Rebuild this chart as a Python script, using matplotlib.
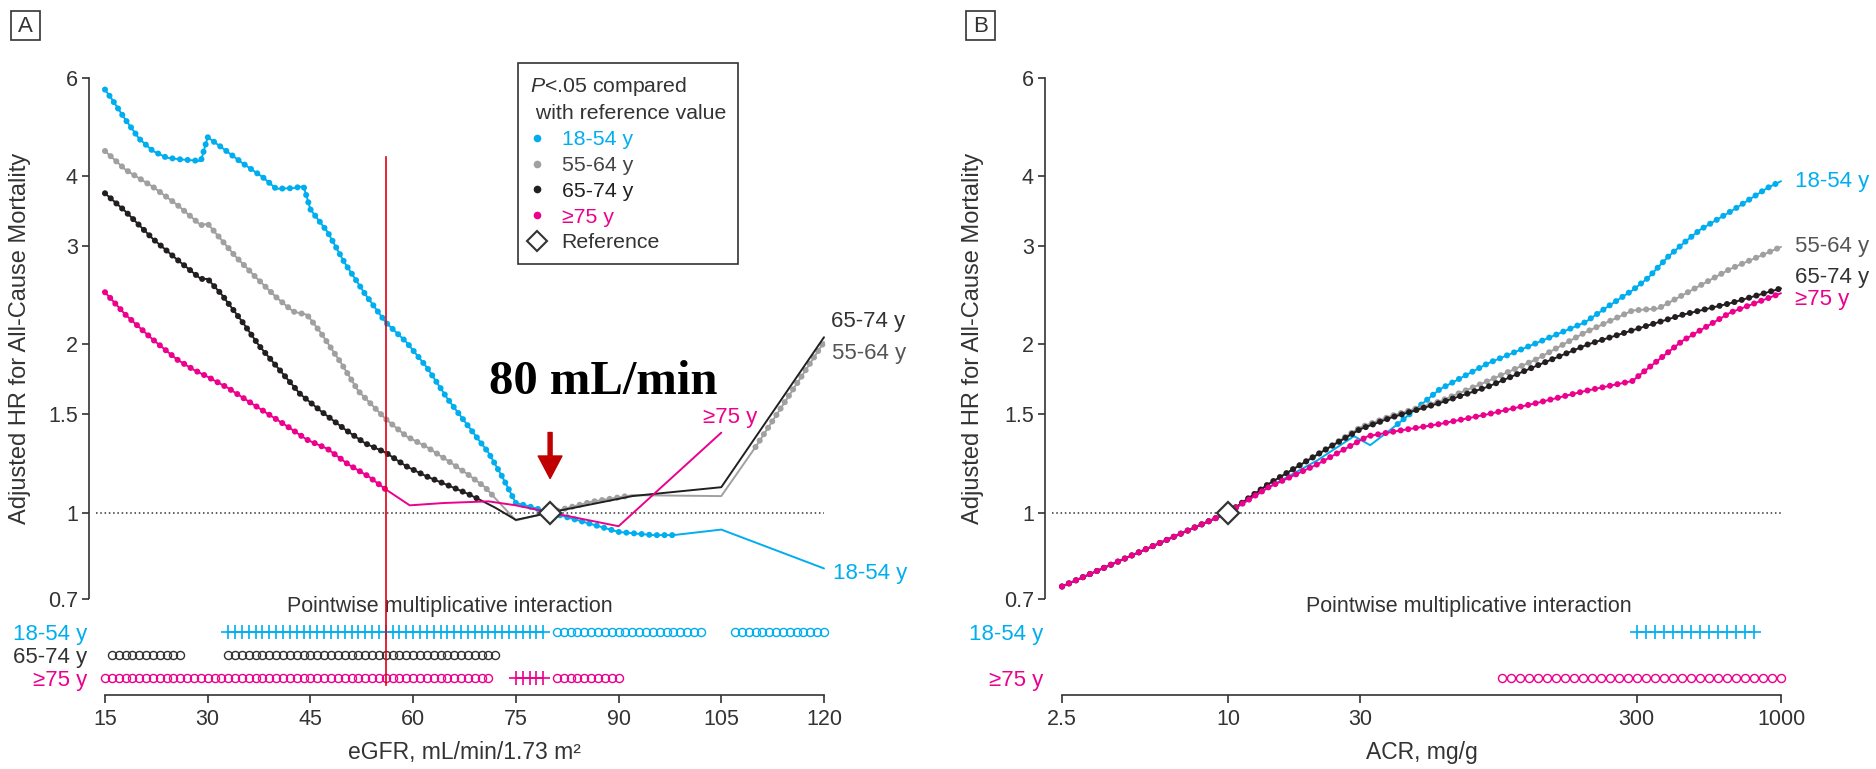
import numpy as np
import matplotlib
matplotlib.use('Agg')
import matplotlib.pyplot as plt
from matplotlib.lines import Line2D
from matplotlib.patches import Rectangle
from matplotlib.transforms import offset_copy

plt.rcParams['font.family'] = ['Liberation Sans', 'DejaVu Sans']
plt.rcParams['mathtext.fontset'] = 'custom'
plt.rcParams['mathtext.rm'] = 'Liberation Sans'
plt.rcParams['mathtext.it'] = 'Liberation Sans:italic'

blue = '#00AEEF'
grey = '#A0A0A0'
black = '#231F20'
pink = '#EC008C'
dark = '#333333'

# ---- panel A: eGFR ----
egfr_1854 = [15, 16, 18, 20, 22, 24, 26, 29, 30, 32, 35, 38, 40, 42.5, 44, 45, 47.5, 50, 53, 56,
             59, 62, 65, 68, 71, 73, 75, 77, 80, 84, 90, 95, 98, 105, 120]
hr_1854 = [5.72, 5.50, 5.05, 4.67, 4.44, 4.32, 4.29, 4.26, 4.70, 4.51, 4.23, 3.99, 3.80, 3.81, 3.84,
           3.49, 3.18, 2.80, 2.46, 2.19, 2.02, 1.82, 1.60, 1.43, 1.28, 1.16, 1.04, 1.025, 1.0,
           0.969, 0.923, 0.911, 0.911, 0.932, 0.794]
egfr_5564 = [15, 18, 22, 25.5, 29, 30, 31.5, 34, 37, 40, 42.5, 44.5, 46.5, 49.5, 52, 56, 59, 62, 65,
             68, 70.5, 72, 75, 80, 86, 92, 105, 110, 120]
hr_5564 = [4.44, 4.11, 3.83, 3.56, 3.27, 3.29, 3.13, 2.88, 2.64, 2.43, 2.29, 2.26, 2.10, 1.85, 1.65,
           1.47, 1.37, 1.31, 1.24, 1.17, 1.11, 1.06, 0.968, 1.0, 1.045, 1.074, 1.07, 1.31, 2.02]
egfr_6574 = [15, 18, 22, 25.5, 29, 30, 32, 35, 37.5, 40.5, 43.5, 46.5, 50, 53, 56, 59, 62, 65, 68,
             70, 72, 75, 80, 92, 105, 120]
hr_6574 = [3.73, 3.46, 3.09, 2.84, 2.62, 2.62, 2.46, 2.20, 1.99, 1.80, 1.63, 1.52, 1.41, 1.33, 1.28,
           1.21, 1.16, 1.12, 1.08, 1.05, 1.02, 0.97, 1.0, 1.07, 1.11, 2.06]
egfr_75 = [15, 18, 22, 25.5, 28, 30, 33, 36, 38.5, 41.5, 44.5, 47.5, 50.5, 53.5, 56, 59.5, 64.5, 71,
           75, 80, 90, 105]
hr_75 = [2.48, 2.26, 2.04, 1.88, 1.80, 1.75, 1.67, 1.58, 1.51, 1.43, 1.35, 1.30, 1.22, 1.16, 1.10,
         1.03, 1.04, 1.047, 1.03, 1.0, 0.945, 1.39]
# eGFR ranges with P<.05 vs reference
sig_a_1854 = [(15, 98)]
sig_a_5564 = [(15, 72), (80, 92), (110, 120)]
sig_a_6574 = [(15, 70)]
sig_a_75 = [(15, 56)]
ref_egfr = 80
cutoff_egfr = 56
egfr_ticks = [15, 30, 45, 60, 75, 90, 105, 120]
# pointwise interaction rows (marker, first, last eGFR)
int_a_1854 = [('+', 33, 79), ('o', 81, 102), ('o', 107, 120)]
int_a_6574 = [('o', 16, 26), ('o', 33, 72)]
int_a_75 = [('o', 15, 71), ('+', 75, 79), ('o', 81, 90)]

# ---- panel B: ACR ----
acr_1854 = [2.5, 10, 14, 21, 28.5, 32.6, 36, 41, 58, 87, 130, 195, 240, 290, 330, 390, 445, 510,
            670, 890, 1000]
hrb_1854 = [0.737, 1.0, 1.11, 1.24, 1.37, 1.32, 1.37, 1.44, 1.66, 1.85, 2.01, 2.19, 2.35, 2.50,
            2.63, 2.87, 3.04, 3.21, 3.48, 3.81, 3.92]
acr_5564 = [2.5, 10, 14, 21, 30, 39, 58, 87, 130, 195, 290, 360, 440, 655, 1000]
hrb_5564 = [0.737, 1.0, 1.125, 1.27, 1.42, 1.49, 1.58, 1.72, 1.88, 2.10, 2.30, 2.32, 2.45, 2.73, 2.99]
acr_6574 = [2.5, 10, 14, 21, 30, 39, 58, 87, 130, 200, 290, 440, 655, 1000]
hrb_6574 = [0.737, 1.0, 1.125, 1.27, 1.41, 1.48, 1.57, 1.68, 1.83, 2.0, 2.12, 2.26, 2.37, 2.52]
acr_75 = [2.5, 10, 14, 21, 32, 41, 58, 87, 130, 195, 290, 320, 440, 655, 1000]
hrb_75 = [0.737, 1.0, 1.11, 1.22, 1.37, 1.40, 1.44, 1.50, 1.57, 1.65, 1.72, 1.79, 2.03, 2.28, 2.47]
sig_b_1854 = [(41, 1000)]
sig_b_all = [(2.5, 1000)]
ref_acr = 10
acr_ticks = [2.5, 10, 30, 300, 1000]
acr_ticklabels = ['2.5', '10', '30', '300', '1000']
int_b_1854 = [('+', 290, 860)]
int_b_75 = [('o', 92, 1000)]

hr_ticks = [0.7, 1, 1.5, 2, 3, 4, 6]
hr_ticklabels = ['0.7', '1', '1.5', '2', '3', '4', '6']

# evaluation grids used for the interaction marks
egfr_grid = np.arange(15, 121)
acr_grid = np.geomspace(2.5, 1000, 81)

W, H = 1876, 769
fig = plt.figure(figsize=(W / 100, H / 100), dpi=100)


def px_axes(x0, y0, x1, y1):
    return fig.add_axes([x0 / W, 1 - y1 / H, (x1 - x0) / W, (y1 - y0) / H])


def draw_curve(ax, x, y, sig, color, z):
    x = np.array(x)
    y = np.array(y)
    ax.plot(x, y, color=color, lw=1.4, zorder=z, clip_on=False, solid_capstyle='round')
    for lo, hi in sig:
        m = (x >= lo) & (x <= hi)
        ax.plot(x[m], y[m], color=color, lw=4.4, ls=(0, (0.001, 1.25)),
                dash_capstyle='round', zorder=z, clip_on=False)


def style_main(ax):
    ax.set_yscale('log')
    ax.set_ylim(0.7, 6)
    ax.set_yticks(hr_ticks)
    ax.set_yticklabels(hr_ticklabels)
    ax.yaxis.set_minor_locator(matplotlib.ticker.NullLocator())
    for s in ['top', 'right', 'bottom']:
        ax.spines[s].set_visible(False)
    ax.spines['left'].set_bounds(0.7, 6)
    ax.spines['left'].set_color(dark)
    ax.spines['left'].set_linewidth(1.2)
    ax.tick_params(axis='y', length=5, width=1.2, color=dark, labelcolor=dark, labelsize=15.5, pad=3)
    ax.set_xticks([])
    ax.axhline(1, xmin=0.01, xmax=1, color=dark, lw=1.1, ls=(0, (1, 1.8)), zorder=1)


def style_low(ax):
    ax.set_ylim(2.74, -1.435)
    for s in ['top', 'right', 'left']:
        ax.spines[s].set_visible(False)
    ax.spines['bottom'].set_color(dark)
    ax.spines['bottom'].set_linewidth(1.2)
    ax.tick_params(axis='x', length=6, width=1.2, color=dark, labelcolor=dark, labelsize=15.5, pad=4)
    ax.tick_params(axis='y', length=0, pad=1.5, labelsize=16)


def draw_rows(ax, grid, rows, colors):
    for r, (segs, c) in enumerate(zip(rows, colors)):
        for mk, lo, hi in segs:
            g = grid[(grid >= lo * 0.999) & (grid <= hi * 1.001)]
            if mk == '+':
                ax.plot(g, np.full(len(g), r), ls='none', marker='+',
                        ms=10, mew=1.2, color=c, clip_on=False)
            else:
                ax.plot(g, np.full(len(g), r), ls='none', marker='o', ms=5.8, mew=1.0,
                        mfc='none', mec=c, clip_on=False)


# ---------------- panel A ----------------
axA = px_axes(89, 78, 824, 599)
axA_low = px_axes(89, 599, 824, 695)
xlimA = (15 - 16 / 6.848, 120)
axA.set_xlim(xlimA)
axA_low.set_xlim(xlimA)
style_main(axA)
style_low(axA_low)

draw_curve(axA, egfr_1854, hr_1854, sig_a_1854, blue, 2)
draw_curve(axA, egfr_5564, hr_5564, sig_a_5564, grey, 3)
draw_curve(axA, egfr_6574, hr_6574, sig_a_6574, black, 4)
draw_curve(axA, egfr_75, hr_75, sig_a_75, pink, 5)
axA.plot([ref_egfr], [1], marker='D', ms=11, mfc='white', mec=dark, mew=1.6, zorder=10, ls='none')

axA.annotate('18-54 y', xy=(egfr_1854[-1], hr_1854[-1]), xytext=(9, -5), textcoords='offset pixels',
             color=blue, fontsize=16, va='center', annotation_clip=False)
axA.annotate('55-64 y', xy=(egfr_5564[-1], hr_5564[-1]), xytext=(8, -11), textcoords='offset pixels',
             color='#555555', fontsize=16, va='center', annotation_clip=False)
axA.annotate('65-74 y', xy=(egfr_6574[-1], hr_6574[-1]), xytext=(7, 16), textcoords='offset pixels',
             color=dark, fontsize=16, va='center', annotation_clip=False)
axA.annotate('≥75 y', xy=(egfr_75[-1], hr_75[-1]), xytext=(9, 15), textcoords='offset pixels',
             color=pink, fontsize=16, va='center', ha='center', annotation_clip=False)

# highlighted reference value
axA.annotate('80 mL/min', xy=(ref_egfr, 1), xytext=(53, 119), textcoords='offset pixels',
             ha='center', va='baseline', fontsize=35, fontweight='bold',
             family=['Liberation Serif', 'DejaVu Serif'], color='black')
axA.annotate('', xy=(ref_egfr, 1), xycoords=offset_copy(axA.transData, fig=fig, x=0, y=34, units='dots'),
             xytext=(0, 46), textcoords='offset pixels',
             arrowprops=dict(arrowstyle='simple,head_length=0.9,head_width=0.95,tail_width=0.16',
                             color='#C00000', shrinkA=0, shrinkB=0, mutation_scale=18))
axA.axvline(cutoff_egfr, ymin=0, ymax=0.848, color='#E3000F', lw=1.2, zorder=6)
axA_low.axvline(cutoff_egfr, ymin=0.104, ymax=1, color='#E3000F', lw=1.2, zorder=6)

handles = [Line2D([], [], ls='none', marker='o', ms=4.5, color=c) for c in [blue, grey, black, pink]]
handles.append(Line2D([], [], ls='none', marker='D', ms=10, mfc='white', mec=dark, mew=1.5))
leg = axA.legend(handles, ['18-54 y', '55-64 y', '65-74 y', '≥75 y', 'Reference'],
                 title='$\\it{P}$<.05 compared\n with reference value', loc='upper left',
                 bbox_to_anchor=((518 - 89) / 735, (599 - 63) / 521), borderaxespad=0,
                 fontsize=15.3, title_fontsize=15.3, fancybox=False, edgecolor=dark, framealpha=1,
                 handlelength=0.7, handletextpad=0.8, labelspacing=0.32, borderpad=0.55,
                 alignment='left')
leg.get_frame().set_linewidth(1.2)
for t, c in zip(leg.get_texts(), [blue, '#444444', black, pink, dark]):
    t.set_color(c)
leg.get_title().set_color(dark)
leg.get_title().set_linespacing(1.45)

axA_low.set_xticks(egfr_ticks)
axA_low.set_xticklabels([str(t) for t in egfr_ticks])
axA_low.spines['bottom'].set_bounds(15, 120)
axA_low.set_yticks([0, 1, 2])
axA_low.set_yticklabels(['18-54 y', '65-74 y', '≥75 y'])
for t, c in zip(axA_low.get_yticklabels(), [blue, dark, pink]):
    t.set_color(c)
draw_rows(axA_low, egfr_grid, [int_a_1854, int_a_6574, int_a_75], [blue, dark, pink])
axA_low.text(65.4, 0.92, 'Pointwise multiplicative interaction', transform=axA_low.get_xaxis_transform(),
             ha='center', va='center', fontsize=15.5, color=dark)
axA_low.text(67.5, -0.6, 'eGFR, mL/min/1.73 m²', transform=axA_low.get_xaxis_transform(),
             ha='center', va='center', fontsize=16.5, color=dark)

# ---------------- panel B ----------------
axB = px_axes(1045, 78, 1781, 599)
axB_low = px_axes(1045, 599, 1781, 695)
for ax in [axB, axB_low]:
    ax.set_xscale('log')
    ax.set_xlim(2.5 * np.exp(-17 / 120), 1000)
style_main(axB)
style_low(axB_low)

draw_curve(axB, acr_1854, hrb_1854, sig_b_1854, blue, 2)
draw_curve(axB, acr_5564, hrb_5564, sig_b_all, grey, 3)
draw_curve(axB, acr_6574, hrb_6574, sig_b_all, black, 4)
draw_curve(axB, acr_75, hrb_75, sig_b_all, pink, 5)
axB.plot([ref_acr], [1], marker='D', ms=11, mfc='white', mec=dark, mew=1.6, zorder=10, ls='none')

axB.annotate('18-54 y', xy=(acr_1854[-1], hrb_1854[-1]), xytext=(14, 0), textcoords='offset pixels',
             color=blue, fontsize=16, va='center', annotation_clip=False)
axB.annotate('55-64 y', xy=(acr_5564[-1], hrb_5564[-1]), xytext=(14, 0), textcoords='offset pixels',
             color='#555555', fontsize=16, va='center', annotation_clip=False)
axB.annotate('65-74 y', xy=(acr_6574[-1], hrb_6574[-1]), xytext=(14, 11), textcoords='offset pixels',
             color=dark, fontsize=16, va='center', annotation_clip=False)
axB.annotate('≥75 y', xy=(acr_75[-1], hrb_75[-1]), xytext=(14, -6), textcoords='offset pixels',
             color=pink, fontsize=16, va='center', annotation_clip=False)

axB_low.set_xticks(acr_ticks)
axB_low.set_xticklabels(acr_ticklabels)
axB_low.xaxis.set_minor_locator(matplotlib.ticker.NullLocator())
axB_low.spines['bottom'].set_bounds(2.5, 1000)
axB_low.set_yticks([0, 2])
axB_low.set_yticklabels(['18-54 y', '≥75 y'])
for t, c in zip(axB_low.get_yticklabels(), [blue, pink]):
    t.set_color(c)
draw_rows(axB_low, acr_grid, [int_b_1854, [], int_b_75], [blue, dark, pink])
axB_low.text(74, 0.92, 'Pointwise multiplicative interaction', transform=axB_low.get_xaxis_transform(),
             ha='center', va='center', fontsize=15.5, color=dark)
axB_low.text(50, -0.6, 'ACR, mg/g', transform=axB_low.get_xaxis_transform(),
             ha='center', va='center', fontsize=16.5, color=dark)

# y labels and panel letters
for xc in [20, 973]:
    fig.text(xc / W, 1 - 338 / H, 'Adjusted HR for All-Cause Mortality', rotation=90,
             ha='center', va='center', fontsize=17, color=dark)
for x0, letter in [(11, 'A'), (966, 'B')]:
    fig.add_artist(Rectangle((x0 / W, 1 - 40 / H), 29 / W, 29 / H, transform=fig.transFigure,
                             fill=False, ec=dark, lw=1.2))
    fig.text((x0 + 14.5) / W, 1 - 26 / H, letter, ha='center', va='center', fontsize=16, color=dark)

plt.savefig('out.png', dpi=100)
